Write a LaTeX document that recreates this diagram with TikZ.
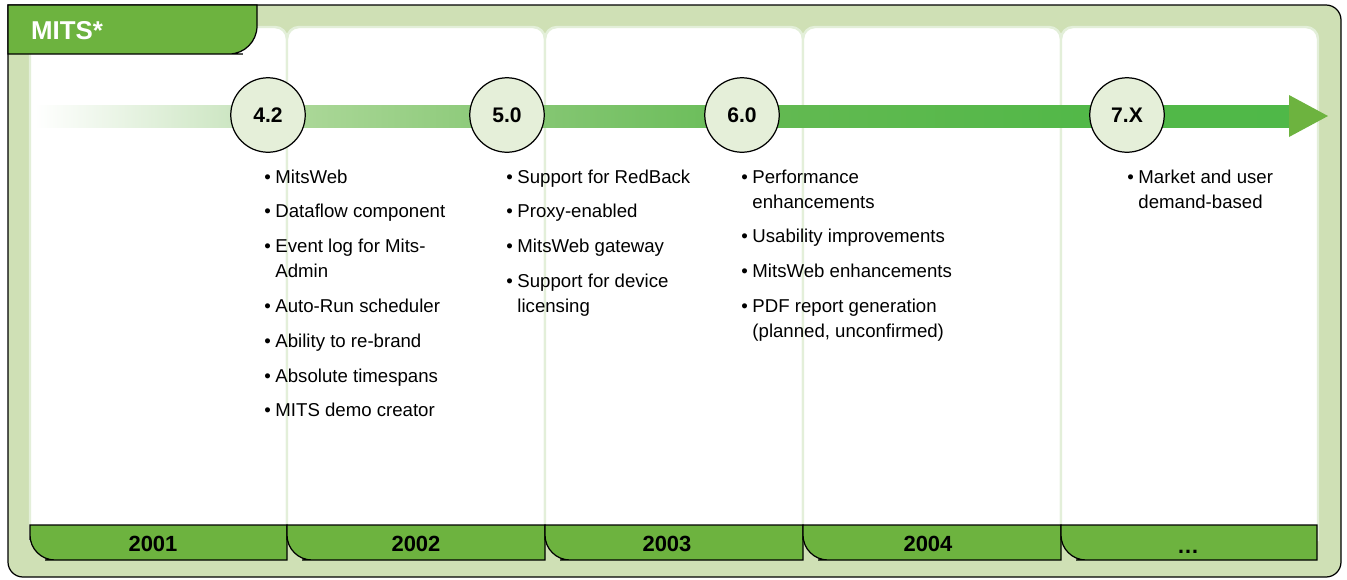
\documentclass[tikz,border=0pt]{standalone}
\usepackage{fontspec}
\setmainfont{Liberation Sans}
\definecolor{framegreen}{HTML}{CFE0B5}
\definecolor{panelline}{HTML}{E3EFD9}
\definecolor{tabgreen}{HTML}{6DB33F}
\definecolor{dotfill}{HTML}{E5EFD9}
\definecolor{bandA}{HTML}{CDE6C3}
\definecolor{bandB}{HTML}{AAD797}
\definecolor{bandC}{HTML}{8FCB7C}
\definecolor{bandD}{HTML}{84C672}
\definecolor{bandE}{HTML}{6DBE5C}
\definecolor{bandF}{HTML}{62B951}
\definecolor{bandG}{HTML}{52B848}
\definecolor{bandH}{HTML}{4FB848}
\pgfdeclarehorizontalshading{bandshading}{100bp}{color(0bp)=(white); color(25bp)=(white);
  color(32.8bp)=(bandA); color(35.8bp)=(bandB); color(42.3bp)=(bandC); color(45.3bp)=(bandD);
  color(51.7bp)=(bandE); color(54.7bp)=(bandF); color(67bp)=(bandG); color(75bp)=(bandH); color(100bp)=(bandH)}
\newcommand{\verlist}[1]{\begin{tabular}[t]{@{}l@{\hspace{2.6pt}}l@{}}#1\end{tabular}}
\tikzset{
  panel/.style={fill=white, draw=panelline, line width=1.4pt},
  yearbar/.style={fill=tabgreen, draw, line width=0.7pt},
  year/.style={font=\fontsize{12.5}{12.5}\selectfont\bfseries},
  version/.style={circle, draw, line width=0.7pt, fill=dotfill, minimum size=1.49cm, inner sep=0pt,
    font=\fontsize{12}{12}\selectfont\bfseries},
  items/.style={anchor=base west, inner sep=0pt, font=\fontsize{10.6}{14.3}\selectfont},
}
\begin{document}
\begin{tikzpicture}[x=0.02cm, y=-0.02cm]
   \useasboundingbox (0,0) rectangle (1347,579);
   \draw [fill=framegreen, line width=0.7pt] (8,5) -- (1000,5) [rounded corners=0.3cm] -- (1341,5) -- (1341,577) -- (8,577) -- (8,300) [sharp corners] -- cycle;
   \draw [panel] (30,540) -- (30,100) [rounded corners=0.24cm] -- (30,27) -- (287,27) -- (287,100) [sharp corners] -- (287,540) -- cycle;
   \draw [panel] (287,540) -- (287,100) [rounded corners=0.24cm] -- (287,27) -- (545,27) -- (545,100) [sharp corners] -- (545,540) -- cycle;
   \draw [panel] (545,540) -- (545,100) [rounded corners=0.24cm] -- (545,27) -- (803,27) -- (803,100) [sharp corners] -- (803,540) -- cycle;
   \draw [panel] (803,540) -- (803,100) [rounded corners=0.24cm] -- (803,27) -- (1061,27) -- (1061,100) [sharp corners] -- (1061,540) -- cycle;
   \draw [panel] (1061,540) -- (1061,100) [rounded corners=0.24cm] -- (1061,27) -- (1318,27) -- (1318,100) [sharp corners] -- (1318,540) -- cycle;
   \draw [fill=tabgreen, line width=0.7pt] (8,5) -- (257,5) -- (257,20) [rounded corners=0.56cm] -- (257,54) -- (215,54) [sharp corners] -- (8,54) -- cycle;
   \node [anchor=west, text=white, font=\fontsize{14.7}{14.7}\selectfont\bfseries] (mits) at (25,31) {MITS*};
   \shade [shading=bandshading] (35,105) rectangle (1290,127);
   \fill [tabgreen] (1289,95) -- (1328,116) -- (1289,137) -- cycle;
   \node [version] (v42) at (268,115) {4.2};
   \node [version] (v50) at (507,115) {5.0};
   \node [version] (v60) at (742,115) {6.0};
   \node [version] (v7x) at (1127,115) {7.X};
   \node [items] (l42) at (264,183) {\verlist{\textbullet & MitsWeb\\[5.5pt]
      \textbullet & Dataflow component\\[5.5pt]
      \textbullet & Event log for Mits-\\ & Admin\\[5.5pt]
      \textbullet & Auto-Run scheduler\\[5.5pt]
      \textbullet & Ability to re-brand\\[5.5pt]
      \textbullet & Absolute timespans\\[5.5pt]
      \textbullet & MITS demo creator}};
   \node [items] (l50) at (506,183) {\verlist{\textbullet & Support for RedBack\\[5.5pt]
      \textbullet & Proxy-enabled\\[5.5pt]
      \textbullet & MitsWeb gateway\\[5.5pt]
      \textbullet & Support for device\\ & licensing}};
   \node [items] (l60) at (741,183) {\verlist{\textbullet & Performance\\ & enhancements\\[5.5pt]
      \textbullet & Usability improvements\\[5.5pt]
      \textbullet & MitsWeb enhancements\\[5.5pt]
      \textbullet & PDF report generation\\ & (planned, unconfirmed)}};
   \node [items] (l7x) at (1127,183) {\verlist{\textbullet & Market and user\\ & demand-based}};
   \draw [yearbar] (287,560) -- (287,525) -- (30,525) -- (30,540) [rounded corners=0.5cm] -- (30,560) -- (70,560) [sharp corners] -- cycle;
   \draw [yearbar] (545,560) -- (545,525) -- (287,525) -- (287,540) [rounded corners=0.5cm] -- (287,560) -- (327,560) [sharp corners] -- cycle;
   \draw [yearbar] (803,560) -- (803,525) -- (545,525) -- (545,540) [rounded corners=0.5cm] -- (545,560) -- (585,560) [sharp corners] -- cycle;
   \draw [yearbar] (1061,560) -- (1061,525) -- (803,525) -- (803,540) [rounded corners=0.5cm] -- (803,560) -- (843,560) [sharp corners] -- cycle;
   \draw [yearbar] (1317,560) -- (1317,525) -- (1061,525) -- (1061,540) [rounded corners=0.5cm] -- (1061,560) -- (1101,560) [sharp corners] -- cycle;
   \node [year] (y2001) at (153,544) {2001};
   \node [year] (y2002) at (416,544) {2002};
   \node [year] (y2003) at (667,544) {2003};
   \node [year] (y2004) at (928,544) {2004};
   \node [year, anchor=base] (ymore) at (1188,553) {\dots};
\end{tikzpicture}
\end{document}
